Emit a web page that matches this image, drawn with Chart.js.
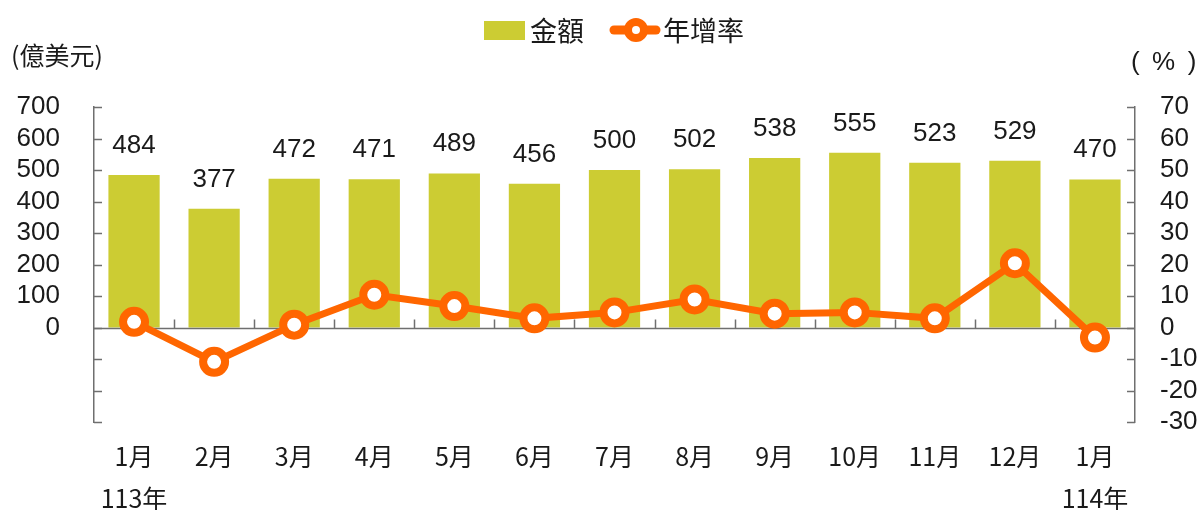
<!DOCTYPE html>
<html><head><meta charset="utf-8">
<script src="https://cdn.jsdelivr.net/npm/chart.js@4.4.1/dist/chart.umd.min.js"></script>
<style>html,body{margin:0;padding:0;background:#fff;}#wrap{width:1203px;height:510px;}</style>
</head><body><div id="wrap"><canvas id="c" width="1203" height="510"></canvas></div>
<script>
const categories = ['1月','2月','3月','4月','5月','6月','7月','8月','9月','10月','11月','12月','1月'];
const yearLabels = ['113年','','','','','','','','','','','','114年'];
const amounts = [484,377,472,471,489,456,500,502,538,555,523,529,470];
const growth = [1.8,-10.9,0.9,10.4,6.8,2.9,4.8,8.9,4.4,4.8,2.9,20.4,-3.2];
const leftAxis = {min:-300, max:700, step:100};
const rightAxis = {min:-30, max:70, step:10};
const seriesNames = ['金額','年增率'];
const unitLeft = '(億美元)';
const unitRight = '( \u2009%\u2009 )';

const FONT = '"Liberation Sans","Noto Sans CJK TC",sans-serif';
const CJK = '"Noto Sans CJK TC","Liberation Sans",sans-serif';
const BAR = '#cccc33', ORANGE = '#ff6600', TXT = '#1a1a1a', AXIS = '#6f6f6f';

const labels = categories.map((c,i)=> yearLabels[i] ? [c, yearLabels[i]] : [c]);

const decor = {
  id:'decor',
  beforeDatasetDraw(chart, args){
    if (args.index !== 0) return;
    const ctx = chart.ctx, ca = chart.chartArea;
    const y = chart.scales.y, y2 = chart.scales.y2, x = chart.scales.x;
    ctx.save();
    ctx.strokeStyle = AXIS; ctx.lineWidth = 1.5;
    const z = Math.round(y.getPixelForValue(0)) + 0.5;
    ctx.beginPath(); ctx.moveTo(ca.left, z); ctx.lineTo(ca.right, z); ctx.stroke();
    ctx.beginPath();
    for (let i=1;i<categories.length;i++){
      const px = Math.round((x.getPixelForValue(i-1)+x.getPixelForValue(i))/2)+0.5;
      ctx.moveTo(px, z); ctx.lineTo(px, z-9);
    }
    ctx.stroke();
    ctx.beginPath();
    for (let v=leftAxis.min; v<=leftAxis.max; v+=leftAxis.step){
      const py = Math.round(y.getPixelForValue(v))+0.5;
      ctx.moveTo(ca.left, py); ctx.lineTo(ca.left+8, py);
    }
    for (let v=rightAxis.min; v<=rightAxis.max; v+=rightAxis.step){
      const py = Math.round(y2.getPixelForValue(v))+0.5;
      ctx.moveTo(ca.right, py); ctx.lineTo(ca.right-8, py);
    }
    ctx.stroke();
    ctx.restore();
  },
  afterDatasetsDraw(chart){
    const ctx = chart.ctx;
    const meta = chart.getDatasetMeta(1);
    ctx.save();
    ctx.font = '26px ' + FONT; ctx.fillStyle = TXT;
    ctx.textAlign = 'center'; ctx.textBaseline = 'alphabetic';
    meta.data.forEach((el,i)=>{ ctx.fillText(String(amounts[i]), el.x, el.y - 22); });
    ctx.restore();
  },
  afterDraw(chart){
    const ctx = chart.ctx;
    ctx.save();
    ctx.fillStyle = BAR; ctx.fillRect(484,21,41,19);
    ctx.fillStyle = TXT; ctx.font = '27px ' + CJK; ctx.textBaseline = 'middle'; ctx.textAlign='left';
    ctx.fillText(seriesNames[0], 530, 31);
    ctx.strokeStyle = ORANGE; ctx.lineWidth = 9; ctx.lineCap = 'round';
    ctx.beginPath(); ctx.moveTo(614,30); ctx.lineTo(656,30); ctx.stroke();
    ctx.fillStyle = '#fff'; ctx.lineWidth = 8;
    ctx.beginPath(); ctx.arc(636,30,8,0,Math.PI*2); ctx.fill(); ctx.stroke();
    ctx.fillStyle = TXT;
    ctx.fillText(seriesNames[1], 663, 31);
    ctx.font = '25px ' + CJK;
    ctx.fillText(unitLeft, 11, 55);
    ctx.font = '26px ' + FONT;
    ctx.fillText(unitRight, 1131, 63);
    ctx.restore();
  }
};

new Chart(document.getElementById('c'), {
  data:{
    labels,
    datasets:[
      {type:'line', label:seriesNames[1], data:growth, yAxisID:'y2', order:0,
       borderColor:ORANGE, borderWidth:7, tension:0,
       pointRadius:11, pointHoverRadius:11, pointBorderWidth:8, pointHoverBorderWidth:8,
       pointBackgroundColor:'#fff', pointBorderColor:ORANGE},
      {type:'bar', label:seriesNames[0], data:amounts, yAxisID:'y', order:1,
       backgroundColor:BAR, borderWidth:0, barPercentage:0.64, categoryPercentage:1.0}
    ]
  },
  options:{
    responsive:false, animation:false,
    layout:{padding:{top:107,left:0,right:0,bottom:0}},
    plugins:{legend:{display:false}, tooltip:{enabled:false}},
    scales:{
      x:{type:'category', grid:{display:false, drawTicks:false}, border:{display:false},
         ticks:{font:{family:CJK,size:25,lineHeight:1.7}, color:TXT, padding:13, maxRotation:0, autoSkip:false},
         afterFit(s){ s.height = 88; }},
      y:{position:'left', min:leftAxis.min, max:leftAxis.max,
         grid:{display:false, drawTicks:false}, border:{display:true, color:AXIS, width:1.5},
         ticks:{stepSize:leftAxis.step, autoSkip:false, font:{family:FONT,size:26}, color:TXT, padding:34,
                callback:(v)=> v<0 ? '' : String(v)},
         afterFit(s){ s.width = 94; }},
      y2:{position:'right', min:rightAxis.min, max:rightAxis.max,
         grid:{display:false, drawTicks:false}, border:{display:true, color:AXIS, width:1.5},
         ticks:{stepSize:rightAxis.step, autoSkip:false, font:{family:FONT,size:26}, color:TXT, padding:25},
         afterFit(s){ s.width = 68; }}
    }
  },
  plugins:[decor]
});
</script></body></html>
